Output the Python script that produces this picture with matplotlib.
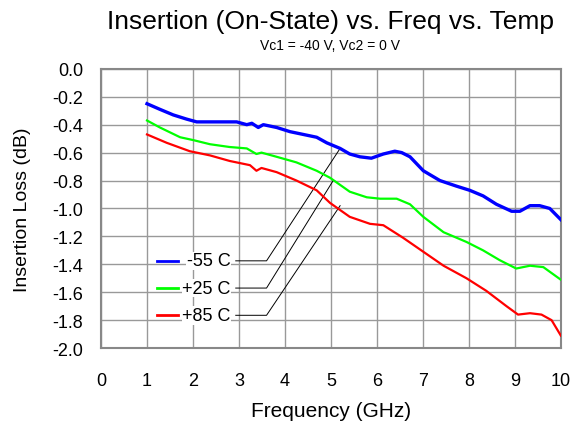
import matplotlib
matplotlib.use('Agg')
import matplotlib.pyplot as plt

plt.rcParams['font.family'] = ['Liberation Sans', 'DejaVu Sans']

# data
freq_n55 = [1.0, 1.28, 1.57, 1.86, 2.08, 2.37, 2.66, 2.95, 3.17, 3.28, 3.42, 3.53, 3.82, 4.11, 4.40,
            4.69, 4.91, 5.2, 5.41, 5.63, 5.88, 6.14, 6.39, 6.54, 6.72, 7.01, 7.37, 7.73, 8.02, 8.31,
            8.60, 8.93, 9.11, 9.33, 9.54, 9.76, 10.0]
loss_n55 = [-0.25, -0.29, -0.33, -0.36, -0.38, -0.38, -0.38, -0.38, -0.40, -0.39, -0.42, -0.40, -0.42,
            -0.45, -0.47, -0.49, -0.53, -0.57, -0.61, -0.63, -0.64, -0.61, -0.59, -0.60, -0.63, -0.73,
            -0.80, -0.84, -0.87, -0.91, -0.97, -1.02, -1.02, -0.98, -0.98, -1.00, -1.08]

freq_p25 = [1.0, 1.28, 1.72, 2.0, 2.37, 2.80, 3.17, 3.38, 3.49, 3.82, 4.25, 4.69, 4.98, 5.41, 5.78,
            6.07, 6.43, 6.72, 7.01, 7.45, 7.95, 8.31, 8.67, 9.03, 9.33, 9.62, 10.0]
loss_p25 = [-0.37, -0.42, -0.49, -0.51, -0.54, -0.56, -0.57, -0.61, -0.60, -0.63, -0.67, -0.73, -0.78,
            -0.88, -0.92, -0.93, -0.93, -0.97, -1.06, -1.17, -1.24, -1.30, -1.37, -1.43, -1.41, -1.42,
            -1.51]

freq_p85 = [1.0, 1.43, 1.93, 2.37, 2.80, 3.24, 3.38, 3.49, 3.82, 4.25, 4.69, 4.98, 5.41, 5.85, 6.14,
            6.57, 7.01, 7.45, 7.95, 8.38, 8.82, 9.07, 9.33, 9.58, 9.80, 10.0]
loss_p85 = [-0.47, -0.53, -0.59, -0.62, -0.66, -0.69, -0.73, -0.71, -0.74, -0.80, -0.87, -0.96, -1.06,
            -1.11, -1.12, -1.21, -1.31, -1.41, -1.50, -1.59, -1.70, -1.76, -1.75, -1.76, -1.80, -1.91]

labels = ['-55 C', '+25 C', '+85 C']
colors = ['#0000ff', '#00ff00', '#ff0000']
label_y = [-1.375, -1.57, -1.765]
callout_pts = [(5.2, -0.57), (5.05, -0.80), (5.2, -0.98)]

fig = plt.figure(figsize=(5.74, 4.31), dpi=100)
ax = fig.add_axes([0.176, 0.19, 0.801, 0.648])

series = [(freq_n55, loss_n55), (freq_p25, loss_p25), (freq_p85, loss_p85)]
widths = [2.4, 1.6, 1.6]
for (f, l), c, w in zip(series, colors, widths):
    ax.plot(f, l, color=c, lw=w, zorder=3)

# legend with callout lines
for lab, c, y, (px, py) in zip(labels, colors, label_y, callout_pts):
    ax.plot([1.22, 1.67], [y, y], color=c, lw=2, zorder=3)
    ax.text(2.82, y, lab, ha='right', va='center', fontsize=13,
            bbox=dict(facecolor='white', edgecolor='none', pad=0.5), zorder=4)
    ax.plot([2.93, 3.6, px], [y, y, py], color='black', lw=0.7, zorder=2)

ax.set_xlim(0, 10)
ax.set_ylim(-2.0, 0.0)
ax.set_xticks(range(0, 11))
ax.set_yticks([i * -0.2 for i in range(11)])
ax.set_yticklabels(['%.1f' % (i * -0.2) if i else '0.0' for i in range(11)])
ax.grid(True, color='#999999', lw=1)
ax.tick_params(length=0, labelsize=13)
ax.tick_params(axis='x', pad=17)
ax.tick_params(axis='y', pad=13)
for s in ax.spines.values():
    s.set_color('#888888')
    s.set_linewidth(1.5)
ax.set_xlabel('Frequency (GHz)', fontsize=15, labelpad=9)
ax.set_ylabel('Insertion Loss (dB)', fontsize=14, labelpad=15)

fig.text(0.575, 0.95, 'Insertion (On-State) vs. Freq vs. Temp', ha='center', va='center', fontsize=19)
fig.text(0.575, 0.893, 'Vc1 = -40 V, Vc2 = 0 V', ha='center', va='center', fontsize=10)

fig.savefig('out.png', dpi=100)
